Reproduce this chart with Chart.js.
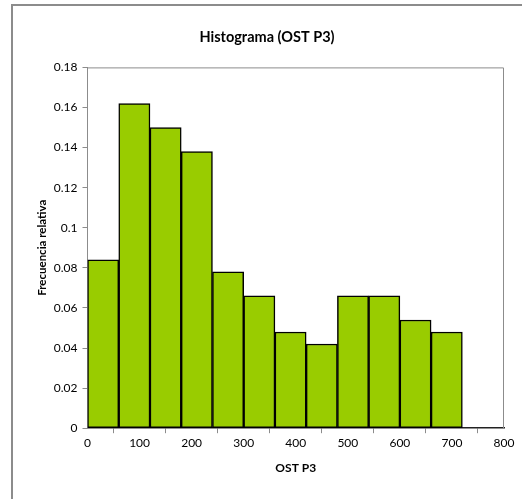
<!DOCTYPE html>
<html lang="es">
<head>
  <meta charset="UTF-8">
  <title>Histograma (OST P3)</title>
  <script src="https://cdn.jsdelivr.net/npm/chart.js"></script>
  <style>
    html, body { margin: 0; padding: 0; background: #fff; overflow: hidden; }
    #frame {
      position: absolute; left: 11px; top: 4px; width: 520px; height: 500px;
      border-left: 2px solid #8c8c8c; border-top: 2px solid #8c8c8c;
    }
    #wrap { position: absolute; left: 13px; top: 6px; width: 509px; height: 493px; }
  </style>
</head>
<body>
<div id="frame"></div>
<div id="wrap"><canvas id="histChart"></canvas></div>

<script>
// bin centres (width 60) and relative frequencies
const binCenters = [30, 90, 150, 210, 270, 330, 390, 450, 510, 570, 630, 690];
const relFreq = [0.084, 0.162, 0.150, 0.138, 0.078, 0.066, 0.048, 0.042, 0.066, 0.066, 0.054, 0.048];
const xTicks = [0, 100, 200, 300, 400, 500, 600, 700, 800];
const yTicks = [0, 0.02, 0.04, 0.06, 0.08, 0.1, 0.12, 0.14, 0.16, 0.18];

const FONT = "Lato, 'Liberation Sans', sans-serif";

// grey frame around the plot area
const plotBorder = {
  id: 'plotBorder',
  afterDraw(chart) {
    const { ctx, chartArea: a } = chart;
    ctx.save();
    ctx.strokeStyle = '#8c8c8c';
    ctx.lineWidth = 1;
    ctx.beginPath();
    ctx.moveTo(a.left, a.top + 0.5);
    ctx.lineTo(a.right - 0.5, a.top + 0.5);
    ctx.lineTo(a.right - 0.5, a.bottom);
    ctx.stroke();
    ctx.restore();
  }
};

new Chart(document.getElementById('histChart'), {
  type: 'bar',
  data: {
    datasets: [{
      label: 'Frecuencia relativa',
      data: binCenters.map((x, i) => ({ x: x, y: relFreq[i] })),
      backgroundColor: '#99cc00',
      borderColor: '#000',
      borderWidth: 1.5,
      borderSkipped: false,
      barPercentage: 1,
      categoryPercentage: 1
    }]
  },
  options: {
    responsive: true,
    maintainAspectRatio: false,
    animation: false,
    layout: { padding: { left: 17, right: 18, top: 10, bottom: 20 } },
    plugins: {
      legend: { display: false },
      tooltip: { enabled: false },
      title: {
        display: true,
        text: 'Histograma (OST P3)',
        color: '#000',
        font: { family: FONT, size: 14.5, weight: 'bold' },
        padding: { top: 13, bottom: 21 }
      }
    },
    scales: {
      x: {
        type: 'linear',
        min: 0,
        max: 800,
        offset: false,
        afterBuildTicks: axis => { axis.ticks = xTicks.map(v => ({ value: v })); },
        ticks: { color: '#000', font: { family: FONT, size: 12 }, padding: 3, maxRotation: 0 },
        grid: { drawOnChartArea: false, drawTicks: true, tickLength: 5, color: '#8c8c8c' },
        border: { color: '#222', width: 1.5 },
        title: {
          display: true, text: 'OST P3', color: '#000',
          font: { family: FONT, size: 12, weight: 'bold' }, padding: { top: 7 }
        }
      },
      y: {
        min: 0,
        max: 0.18,
        afterBuildTicks: axis => { axis.ticks = yTicks.map(v => ({ value: v })); },
        ticks: {
          color: '#000', font: { family: FONT, size: 12 }, padding: 5,
          callback: v => String(+v.toFixed(2))
        },
        grid: { drawOnChartArea: false, drawTicks: true, tickLength: 5, color: '#8c8c8c' },
        border: { color: '#8c8c8c', width: 1 },
        title: {
          display: true, text: 'Frecuencia relativa', color: '#000',
          font: { family: FONT, size: 11.5, weight: 'bold' }, padding: { top: 5, bottom: 0 }
        }
      }
    }
  },
  plugins: [plotBorder]
});
</script>
</body>
</html>
